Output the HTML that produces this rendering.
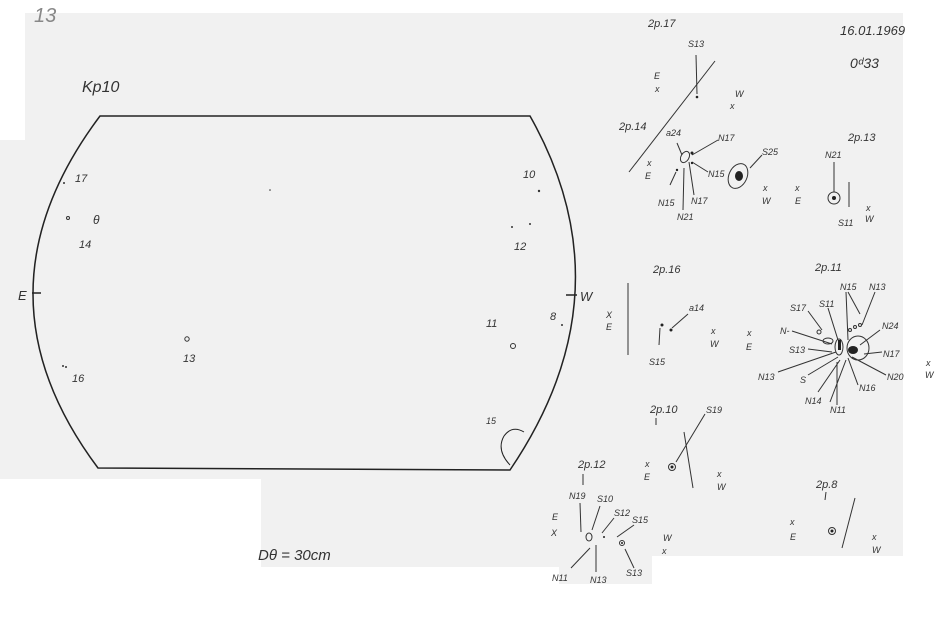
<!DOCTYPE html>
<html><head><meta charset="utf-8"><style>
html,body{margin:0;padding:0;background:#fff;}
svg{display:block;}
text{font-family:"Liberation Sans",sans-serif;font-style:italic;fill:#333;font-size:11px;}
.s{font-size:9px;}
</style></head><body>
<svg width="940" height="635" viewBox="0 0 940 635" xmlns="http://www.w3.org/2000/svg">
<!-- paper -->
<rect width="940" height="635" fill="#fff"/>
<polygon fill="#f1f1f1" points="25,13 903,13 903,556 652,556 652,584 559,584 559,567 261,567 261,479 0,479 0,140 25,140"/>
<text x="34" y="22" style="font-size:20px;fill:#888">13</text>
<text x="82" y="92" style="font-size:16px">Kp10</text>
<!-- main disc -->
<g fill="none" stroke="#222" stroke-width="1.5">
<path d="M100,116 L530,116 Q630,293 510,470 L98,468 Q-33,293 100,116 Z"/>
<line x1="32" y1="293" x2="41" y2="293"/>
<line x1="566" y1="295" x2="577" y2="295"/>
<path d="M510,465 Q496,450 504,436 Q512,425 524,432" stroke-width="1"/>
</g>
<text x="18" y="300" style="font-size:13px">E</text>
<text x="580" y="301" style="font-size:13px">W</text>
<g fill="#333">
<circle cx="64" cy="183" r="1"/><circle cx="270" cy="190" r="0.8"/>
<circle cx="539" cy="191" r="1.2"/><circle cx="512" cy="227" r="1"/><circle cx="530" cy="224" r="1"/>
<circle cx="562" cy="325" r="1"/><circle cx="63" cy="366" r="1"/><circle cx="66" cy="367" r="1"/>
</g>
<g fill="none" stroke="#333">
<circle cx="187" cy="339" r="2.2"/><circle cx="513" cy="346" r="2.5"/><circle cx="68" cy="218" r="1.5"/>
</g>
<text x="75" y="182">17</text><text x="93" y="224" style="font-size:12px">θ</text>
<text x="79" y="248">14</text><text x="72" y="382">16</text><text x="183" y="362">13</text>
<text x="523" y="178">10</text><text x="514" y="250">12</text><text x="550" y="320">8</text>
<text x="486" y="327">11</text><text x="486" y="424" class="s">15</text>
<text x="258" y="560" style="font-size:15px">Dθ = 30cm</text>
<!-- right header -->
<text x="840" y="35" style="font-size:13px">16.01.1969</text>
<text x="850" y="68" style="font-size:14px">0ᵈ33</text>
<g stroke="#333" fill="none" stroke-width="1">
<!-- gr17/14 -->
<line x1="696" y1="55" x2="697" y2="94"/>
<line x1="629" y1="172" x2="715" y2="61"/>
<line x1="677" y1="143" x2="682" y2="155"/>
<line x1="692" y1="155" x2="718" y2="140"/>
<line x1="692" y1="162" x2="708" y2="172"/>
<line x1="670" y1="185" x2="676" y2="172"/>
<line x1="684" y1="168" x2="683" y2="210"/>
<line x1="689" y1="162" x2="694" y2="195"/>
<line x1="750" y1="168" x2="762" y2="155"/>
<ellipse cx="685" cy="157" rx="4" ry="6" transform="rotate(30 685 157)"/>
<ellipse cx="738" cy="176" rx="9" ry="13" transform="rotate(25 738 176)"/>
<!-- gr13 -->
<line x1="834" y1="162" x2="834" y2="192"/>
<circle cx="834" cy="198" r="6"/>
<line x1="849" y1="182" x2="849" y2="207"/>
<!-- gr16 -->
<line x1="628" y1="283" x2="628" y2="355"/>
<line x1="660" y1="328" x2="659" y2="345"/>
<line x1="672" y1="328" x2="688" y2="314"/>
<!-- gr11 -->
<line x1="846" y1="292" x2="848" y2="340"/>
<line x1="848" y1="292" x2="860" y2="314"/>
<line x1="875" y1="292" x2="862" y2="325"/>
<line x1="880" y1="330" x2="860" y2="345"/>
<line x1="882" y1="352" x2="864" y2="354"/>
<line x1="886" y1="375" x2="852" y2="357"/>
<line x1="858" y1="385" x2="848" y2="358"/>
<line x1="830" y1="402" x2="846" y2="360"/>
<line x1="818" y1="392" x2="840" y2="360"/>
<line x1="808" y1="375" x2="838" y2="357"/>
<line x1="778" y1="372" x2="836" y2="352"/>
<line x1="808" y1="349" x2="832" y2="352"/>
<line x1="792" y1="331" x2="832" y2="344"/>
<line x1="808" y1="311" x2="822" y2="330"/>
<line x1="828" y1="308" x2="838" y2="340"/>
<line x1="837" y1="362" x2="837" y2="405"/>
<ellipse cx="828" cy="341" rx="5" ry="3"/>
<ellipse cx="839" cy="347" rx="4" ry="8"/>
<ellipse cx="858" cy="348" rx="11" ry="12"/>
<circle cx="850" cy="330" r="1.5"/><circle cx="855" cy="327" r="1.5"/><circle cx="860" cy="325" r="1.5"/><circle cx="819" cy="332" r="2"/>
<!-- gr10 -->
<line x1="656" y1="418" x2="656" y2="425"/>
<line x1="684" y1="432" x2="693" y2="488"/>
<line x1="676" y1="462" x2="705" y2="414"/>
<circle cx="672" cy="467" r="3.5"/>
<!-- gr12 -->
<line x1="583" y1="474" x2="583" y2="485"/>
<line x1="580" y1="503" x2="581" y2="532"/>
<line x1="600" y1="506" x2="592" y2="530"/>
<line x1="614" y1="518" x2="602" y2="533"/>
<line x1="634" y1="525" x2="617" y2="537"/>
<line x1="590" y1="548" x2="571" y2="568"/>
<line x1="596" y1="545" x2="596" y2="572"/>
<line x1="625" y1="549" x2="634" y2="568"/>
<ellipse cx="589" cy="537" rx="3" ry="4"/><circle cx="622" cy="543" r="2.5"/>
<!-- gr8 -->
<line x1="855" y1="498" x2="842" y2="548"/>
<line x1="826" y1="492" x2="825" y2="500"/>
<circle cx="832" cy="531" r="3.5"/>
</g>
<g fill="#222">
<circle cx="697" cy="97" r="1.3"/><circle cx="692" cy="153" r="1.5"/><circle cx="692" cy="163" r="1.2"/><circle cx="677" cy="170" r="1.2"/>
<ellipse cx="739" cy="176" rx="4" ry="5"/><circle cx="834" cy="198" r="2"/>
<circle cx="662" cy="325" r="1.5"/><circle cx="671" cy="330" r="1.5"/>
<ellipse cx="853" cy="350" rx="5" ry="4"/><rect x="838" y="340" width="3" height="10"/>
<circle cx="672" cy="467" r="1.5"/><circle cx="832" cy="531" r="1.5"/><circle cx="622" cy="543" r="1"/><circle cx="604" cy="537" r="1"/>
</g>
<text x="648" y="27">2p.17</text><text x="688" y="47" class="s">S13</text>
<text x="654" y="79" class="s">E</text><text x="655" y="92" class="s">x</text>
<text x="735" y="97" class="s">W</text><text x="730" y="109" class="s">x</text>
<text x="619" y="130">2p.14</text><text x="666" y="136" class="s">a24</text>
<text x="718" y="141" class="s">N17</text><text x="708" y="177" class="s">N15</text>
<text x="762" y="155" class="s">S25</text>
<text x="647" y="166" class="s">x</text><text x="645" y="179" class="s">E</text>
<text x="658" y="206" class="s">N15</text><text x="691" y="204" class="s">N17</text><text x="677" y="220" class="s">N21</text>
<text x="763" y="191" class="s">x</text><text x="762" y="204" class="s">W</text>
<text x="795" y="191" class="s">x</text><text x="795" y="204" class="s">E</text>
<text x="848" y="141">2p.13</text><text x="825" y="158" class="s">N21</text><text x="838" y="226" class="s">S11</text>
<text x="866" y="211" class="s">x</text><text x="865" y="222" class="s">W</text>
<text x="653" y="273">2p.16</text><text x="606" y="318" class="s">X</text><text x="606" y="330" class="s">E</text>
<text x="689" y="311" class="s">a14</text><text x="649" y="365" class="s">S15</text>
<text x="711" y="334" class="s">x</text><text x="710" y="347" class="s">W</text>
<text x="747" y="336" class="s">x</text><text x="746" y="350" class="s">E</text>
<text x="815" y="271">2p.11</text>
<text x="840" y="290" class="s">N15</text><text x="869" y="290" class="s">N13</text>
<text x="790" y="311" class="s">S17</text><text x="819" y="307" class="s">S11</text>
<text x="882" y="329" class="s">N24</text><text x="780" y="334" class="s">N-</text>
<text x="789" y="353" class="s">S13</text><text x="883" y="357" class="s">N17</text>
<text x="758" y="380" class="s">N13</text><text x="800" y="383" class="s">S</text>
<text x="887" y="380" class="s">N20</text><text x="859" y="391" class="s">N16</text>
<text x="805" y="404" class="s">N14</text><text x="830" y="413" class="s">N11</text>
<text x="926" y="366" class="s">x</text><text x="925" y="378" class="s">W</text>
<text x="650" y="413">2p.10</text><text x="706" y="413" class="s">S19</text>
<text x="645" y="467" class="s">x</text><text x="644" y="480" class="s">E</text>
<text x="717" y="477" class="s">x</text><text x="717" y="490" class="s">W</text>
<text x="578" y="468">2p.12</text>
<text x="569" y="499" class="s">N19</text><text x="597" y="502" class="s">S10</text>
<text x="614" y="516" class="s">S12</text><text x="632" y="523" class="s">S15</text>
<text x="552" y="520" class="s">E</text><text x="551" y="536" class="s">X</text>
<text x="552" y="581" class="s">N11</text><text x="590" y="583" class="s">N13</text><text x="626" y="576" class="s">S13</text>
<text x="663" y="541" class="s">W</text><text x="662" y="554" class="s">x</text>
<text x="816" y="488">2p.8</text>
<text x="790" y="525" class="s">x</text><text x="790" y="540" class="s">E</text>
<text x="872" y="540" class="s">x</text><text x="872" y="553" class="s">W</text>
</svg>
</body></html>
